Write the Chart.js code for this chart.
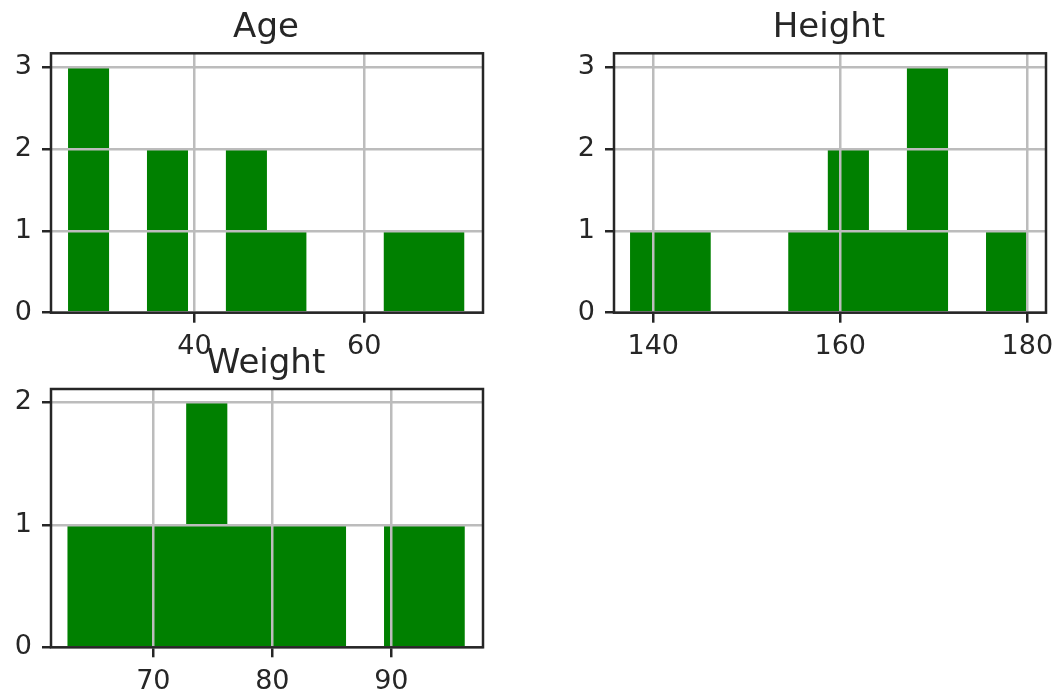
<!DOCTYPE html>
<html>
<head>
<meta charset="utf-8">
<script src="https://cdn.jsdelivr.net/npm/chart.js@4/dist/chart.umd.min.js"></script>
<style>
  html, body { margin: 0; padding: 0; background: #fff; }
  #wrap { position: relative; width: 1057px; height: 691px; overflow: hidden; background: #fff; }
  canvas { position: absolute; }
</style>
</head>
<body>
<div id="wrap">
  <canvas id="age"></canvas>
  <canvas id="height"></canvas>
  <canvas id="weight"></canvas>
</div>
<script>
// Histogram counts: 10 equal-width bins spanning each column's min..max
const ageCounts = [3, 0, 2, 0, 2, 1, 0, 0, 1, 1];
const ageRange = [25.2, 71.7];
const ageXLim = [23.1, 74.0];
const ageXTicks = [40, 60];
const ageYTicks = [0, 1, 2, 3];

const heightCounts = [1, 1, 0, 0, 1, 2, 1, 3, 0, 1];
const heightRange = [137.6, 179.9];
const heightXLim = [135.8, 182.0];
const heightXTicks = [140, 160, 180];
const heightYTicks = [0, 1, 2, 3];

const weightCounts = [1, 1, 1, 2, 1, 1, 1, 0, 1, 1];
const weightRange = [62.85, 96.1];
const weightXLim = [61.4, 97.7];
const weightXTicks = [70, 80, 90];
const weightYTicks = [0, 1, 2];

const INK = '#262626';
const GRID = '#bcbcbc';
const BAR = '#008000';

Chart.defaults.font.family = '"DejaVu Sans", sans-serif';
Chart.defaults.font.size = 27;
Chart.defaults.color = INK;

// Draws the axes frame and the panel title
const framePlugin = {
  id: 'frame',
  afterDraw(chart, args, opts) {
    const { ctx, chartArea: a } = chart;
    ctx.save();
    ctx.strokeStyle = INK;
    ctx.lineWidth = 2.5;
    ctx.strokeRect(a.left, a.top, a.right - a.left, a.bottom - a.top);
    ctx.font = '34px "DejaVu Sans", sans-serif';
    ctx.fillStyle = INK;
    ctx.textAlign = 'center';
    ctx.textBaseline = 'alphabetic';
    ctx.fillText(opts.text, (a.left + a.right) / 2 - 1, a.top - 16);
    ctx.restore();
  }
};

function histogram(id, title, counts, range, xLim, yMax, xTicks, yTicks, box, area) {
  const canvas = document.getElementById(id);
  canvas.width = box.w;
  canvas.height = box.h;
  canvas.style.left = box.x + 'px';
  canvas.style.top = box.y + 'px';
  canvas.style.width = box.w + 'px';
  canvas.style.height = box.h + 'px';

  const [lo, hi] = range;
  const bw = (hi - lo) / counts.length;
  const data = counts.map((c, i) => ({ x: lo + (i + 0.5) * bw, y: c }));

  return new Chart(canvas, {
    type: 'bar',
    data: {
      datasets: [{
        label: title,
        data,
        backgroundColor: BAR,
        borderWidth: 0,
        barPercentage: 1.04,
        categoryPercentage: 1
      }]
    },
    options: {
      responsive: false,
      animation: false,
      layout: { padding: { left: 0, top: area.top, right: box.w - area.right, bottom: 0 } },
      plugins: {
        legend: { display: false },
        tooltip: { enabled: false },
        frame: { text: title }
      },
      scales: {
        x: {
          type: 'linear',
          offset: false,
          min: xLim[0],
          max: xLim[1],
          afterBuildTicks: s => { s.ticks = xTicks.map(v => ({ value: v })); },
          afterFit: s => { s.height = box.h - area.bottom; },
          grid: {
            offset: false, z: 1, color: GRID, lineWidth: 2.5,
            drawTicks: true, tickLength: 10, tickColor: INK, tickWidth: 2.5
          },
          border: { display: false },
          ticks: { padding: 8, color: INK, maxRotation: 0, autoSkip: false }
        },
        y: {
          min: 0,
          max: yMax,
          afterBuildTicks: s => { s.ticks = yTicks.map(v => ({ value: v })); },
          afterFit: s => { s.width = area.left; },
          grid: {
            z: 1, color: GRID, lineWidth: 2.5,
            drawTicks: true, tickLength: 9, tickColor: INK, tickWidth: 2.5
          },
          border: { display: false },
          ticks: { padding: 10, color: INK, autoSkip: false }
        }
      }
    },
    plugins: [framePlugin]
  });
}

histogram('age', 'Age', ageCounts, ageRange, ageXLim, 3.17, ageXTicks, ageYTicks,
  { x: 0, y: 0, w: 528, h: 380 }, { left: 51, right: 483, top: 53.3, bottom: 312.7 });
histogram('height', 'Height', heightCounts, heightRange, heightXLim, 3.17, heightXTicks, heightYTicks,
  { x: 528, y: 0, w: 570, h: 380 }, { left: 86, right: 518, top: 53.3, bottom: 312.7 });
histogram('weight', 'Weight', weightCounts, weightRange, weightXLim, 2.11, weightXTicks, weightYTicks,
  { x: 0, y: 320, w: 528, h: 371 }, { left: 51, right: 483, top: 69, bottom: 327.3 });
</script>
</body>
</html>
